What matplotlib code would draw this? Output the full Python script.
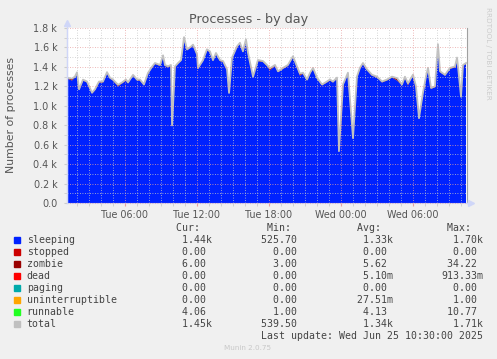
import matplotlib
matplotlib.use('Agg')
import matplotlib.pyplot as plt
from matplotlib.patches import Rectangle
from matplotlib.lines import Line2D
from matplotlib.ticker import MultipleLocator, FixedLocator

W, H = 497, 359

# hours since Tue 00:00
hours = [1.17, 1.58, 1.83, 2.0, 2.17, 2.5, 2.83, 3.25, 3.5, 3.83,
         4.17, 4.5, 4.75, 5.0, 5.42, 5.75, 6.08, 6.25, 6.67, 7.0,
         7.25, 7.58, 7.92, 8.25, 8.5, 8.92, 9.17, 9.33, 9.58, 9.83,
         9.92, 10.17, 10.42, 10.67, 10.92, 11.17, 11.5, 11.67, 12.0, 12.08,
         12.5, 12.83, 13.08, 13.33, 13.58, 13.92, 14.17, 14.5, 14.67, 14.92,
         15.33, 15.58, 15.83, 16.08, 16.25, 16.67, 17.08, 17.5, 17.83, 18.08,
         18.5, 18.75, 19.17, 19.58, 20.0, 20.33, 20.58, 20.83, 21.17, 21.42,
         21.67, 22.0, 22.42, 22.83, 23.08, 23.33, 23.67, 23.83, 24.17, 24.58,
         25.0, 25.33, 25.58, 25.83, 26.17, 26.58, 27.0, 27.42, 27.83, 28.25,
         28.67, 29.08, 29.33, 29.58, 30.0, 30.25, 30.5, 30.83, 31.08, 31.25,
         31.5, 31.83, 32.08, 32.25, 32.67, 33.08, 33.5, 33.67, 33.75, 34.0,
         34.17, 34.42]

sleeping = [1280, 1260, 1290, 1335, 1160, 1260, 1240, 1125, 1160, 1240,
            1240, 1335, 1280, 1260, 1200, 1230, 1260, 1230, 1310, 1260,
            1260, 1210, 1330, 1390, 1430, 1410, 1510, 1410, 1395, 1410,
            790, 1395, 1430, 1460, 1690, 1570, 1600, 1620, 1520, 1380,
            1460, 1570, 1550, 1460, 1535, 1460, 1450, 1365, 1125, 1485,
            1600, 1640, 1550, 1670, 1535, 1290, 1460, 1450, 1410, 1365,
            1410, 1345, 1380, 1410, 1500, 1395, 1310, 1330, 1260, 1330,
            1380, 1280, 1210, 1240, 1260, 1240, 1280, 526, 1210, 1330,
            660, 1290, 1380, 1430, 1365, 1310, 1290, 1240, 1260, 1290,
            1260, 1210, 1290, 1210, 1310, 1190, 865, 1125, 1290, 1380,
            1175, 1190, 1620, 1345, 1310, 1380, 1395, 1485, 1395, 1085,
            1410, 1430]

zombie = [6, 16, 6, 5, 6, 6, 6, 5, 6, 6,
          6, 6, 5, 6, 12, 6, 6, 6, 5, 6,
          6, 6, 5, 6, 6, 6, 6, 5, 6, 6,
          6, 6, 5, 6, 6, 6, 5, 6, 6, 6,
          5, 6, 6, 6, 5, 6, 6, 6, 5, 6,
          6, 5, 6, 6, 6, 5, 6, 6, 6, 18,
          6, 6, 5, 6, 6, 6, 16, 6, 5, 6,
          6, 6, 5, 6, 6, 5, 6, 6, 6, 6,
          5, 6, 6, 6, 5, 6, 6, 6, 5, 6,
          20, 6, 5, 16, 6, 6, 5, 6, 6, 6,
          5, 6, 6, 6, 5, 6, 6, 6, 5, 6,
          6, 6]

runnable = [4, 3, 5, 4, 4, 3, 4, 5, 4, 3,
            4, 5, 4, 3, 4, 4, 5, 4, 3, 4,
            4, 3, 4, 5, 4, 4, 3, 4, 6, 4,
            2, 4, 5, 4, 10, 4, 4, 3, 4, 2,
            4, 5, 4, 4, 3, 4, 4, 5, 2, 4,
            4, 3, 4, 8, 4, 4, 5, 4, 4, 3,
            4, 4, 5, 4, 4, 3, 4, 4, 5, 4,
            4, 3, 4, 4, 5, 4, 4, 1, 4, 4,
            2, 4, 5, 4, 4, 3, 4, 4, 5, 4,
            4, 3, 4, 5, 4, 4, 2, 4, 4, 5,
            4, 4, 7, 4, 3, 4, 4, 5, 4, 2,
            4, 4]

x_ticks = [6, 12, 18, 24, 30]
x_labels = ['Tue 06:00', 'Tue 12:00', 'Tue 18:00', 'Wed 00:00', 'Wed 06:00']
y_ticks = [0, 200, 400, 600, 800, 1000, 1200, 1400, 1600, 1800]
y_labels = ['0.0', '0.2 k', '0.4 k', '0.6 k', '0.8 k', '1.0 k',
            '1.2 k', '1.4 k', '1.6 k', '1.8 k']

names = ['sleeping', 'stopped', 'zombie', 'dead', 'paging',
         'uninterruptible', 'runnable', 'total']
colors = ['#0022ff', '#cc0000', '#990000', '#ff0000', '#00aaaa',
          '#ffa500', '#22ff22', '#c0c0c0']
cur_vals = ['1.44k', '0.00', '6.00', '0.00', '0.00', '0.00', '4.06', '1.45k']
min_vals = ['525.70', '0.00', '3.00', '0.00', '0.00', '0.00', '1.00', '539.50']
avg_vals = ['1.33k', '0.00', '5.62', '5.10m', '0.00', '27.51m', '4.13', '1.34k']
max_vals = ['1.70k', '0.00', '34.22', '913.33m', '0.00', '1.00', '10.77', '1.71k']

total = [s + z + r for s, z, r in zip(sleeping, zombie, runnable)]

fig = plt.figure(figsize=(W / 100, H / 100), dpi=100, facecolor='#f0f0f0')
ax = fig.add_axes([67 / W, 1 - 203 / H, 400 / W, 175 / H])
ax.set_facecolor('white')

ax.stackplot(hours, sleeping, zombie, runnable,
             colors=['#0022ff', '#990000', '#22ff22'], linewidth=0)
ax.plot(hours, total, color='#c0c0c0', lw=1.3)

ax.set_xlim(1.1667, 34.5)
ax.set_ylim(0, 1800)

ax.xaxis.set_major_locator(FixedLocator(x_ticks))
ax.xaxis.set_minor_locator(MultipleLocator(1))
ax.set_xticklabels(x_labels)
ax.yaxis.set_major_locator(FixedLocator(y_ticks))
ax.yaxis.set_minor_locator(MultipleLocator(100))
ax.set_yticklabels(y_labels)

ax.set_axisbelow(False)
ax.grid(True, which='major', color='#e8a0a0', lw=0.6, ls=(0, (1, 2)))
ax.grid(True, which='minor', color='#c8c8c8', lw=0.6, ls=(0, (1, 2)))
for gl in ax.get_ygridlines():
    gl.set_clip_on(False)

ax.tick_params(axis='both', which='both', labelsize=6.9, labelcolor='#555555')
ax.tick_params(axis='x', which='major', length=2, color='#e8a0a0', pad=3)
ax.tick_params(axis='x', which='minor', length=2, color='#cccccc')
ax.tick_params(axis='y', which='both', length=2, color='#cccccc', pad=5)

ax.spines['top'].set_visible(False)
ax.spines['left'].set_color('#cfd6f8')
ax.spines['bottom'].set_color('#cfd6f8')
ax.spines['right'].set_color('#a0a0a0')
ax.spines['right'].set_linewidth(0.8)

# axis arrows
fig.add_artist(Line2D([67 / W, 67 / W], [1 - 203 / H, 1 - 24 / H],
                      color='#cfd6f8', lw=1, transform=fig.transFigure))
fig.add_artist(Line2D([67 / W], [1 - 23 / H], marker='^', color='#cfd6f8',
                      markersize=5, transform=fig.transFigure))
fig.add_artist(Line2D([467 / W, 470 / W], [1 - 203 / H, 1 - 203 / H],
                      color='#cfd6f8', lw=1, transform=fig.transFigure))
fig.add_artist(Line2D([471 / W], [1 - 203 / H], marker='>', color='#cfd6f8',
                      markersize=5, transform=fig.transFigure))

fig.text(248.5 / W, 1 - 19 / H, 'Processes - by day', ha='center', va='center',
         fontsize=9.2, color='#555555')
fig.text(11 / W, 1 - 115 / H, 'Number of processes', rotation=90,
         ha='center', va='center', fontsize=7.8, color='#555555')
fig.text(488 / W, 1 - 53 / H, 'RRDTOOL / TOBI OETIKER', rotation=-90,
         ha='center', va='center', fontsize=5.2, color='#cccccc')

mono = dict(family='DejaVu Sans Mono', fontsize=7.1, color='#444444', va='center')
col_x = [170.4, 261.1, 351.1, 441.1]
for cx, head in zip(col_x, [' Cur:', ' Min:', ' Avg:', ' Max:']):
    fig.text(cx / W, 1 - 227.7 / H, head, ha='left', **mono)

for i, name in enumerate(names):
    y = 239.7 + i * 12.0
    fig.add_artist(Rectangle((14 / W, 1 - (y + 3) / H), 6 / W, 6 / H,
                             color=colors[i], transform=fig.transFigure))
    fig.text(26.7 / W, 1 - y / H, name, ha='left', **mono)
    for cx, vals in zip(col_x, [cur_vals, min_vals, avg_vals, max_vals]):
        v = vals[i]
        s = v if v[-1].isalpha() else v + ' '
        fig.text(cx / W, 1 - y / H, s.rjust(7), ha='left', **mono)

fig.text(482.7 / W, 1 - 335.7 / H, 'Last update: Wed Jun 25 10:30:00 2025',
         ha='right', **mono)
fig.text(247.7 / W, 1 - 347.5 / H, 'Munin 2.0.75', ha='center', va='center',
         fontsize=5.2, color='#c8c8c8')

fig.savefig('out.png', dpi=100, facecolor=fig.get_facecolor())
